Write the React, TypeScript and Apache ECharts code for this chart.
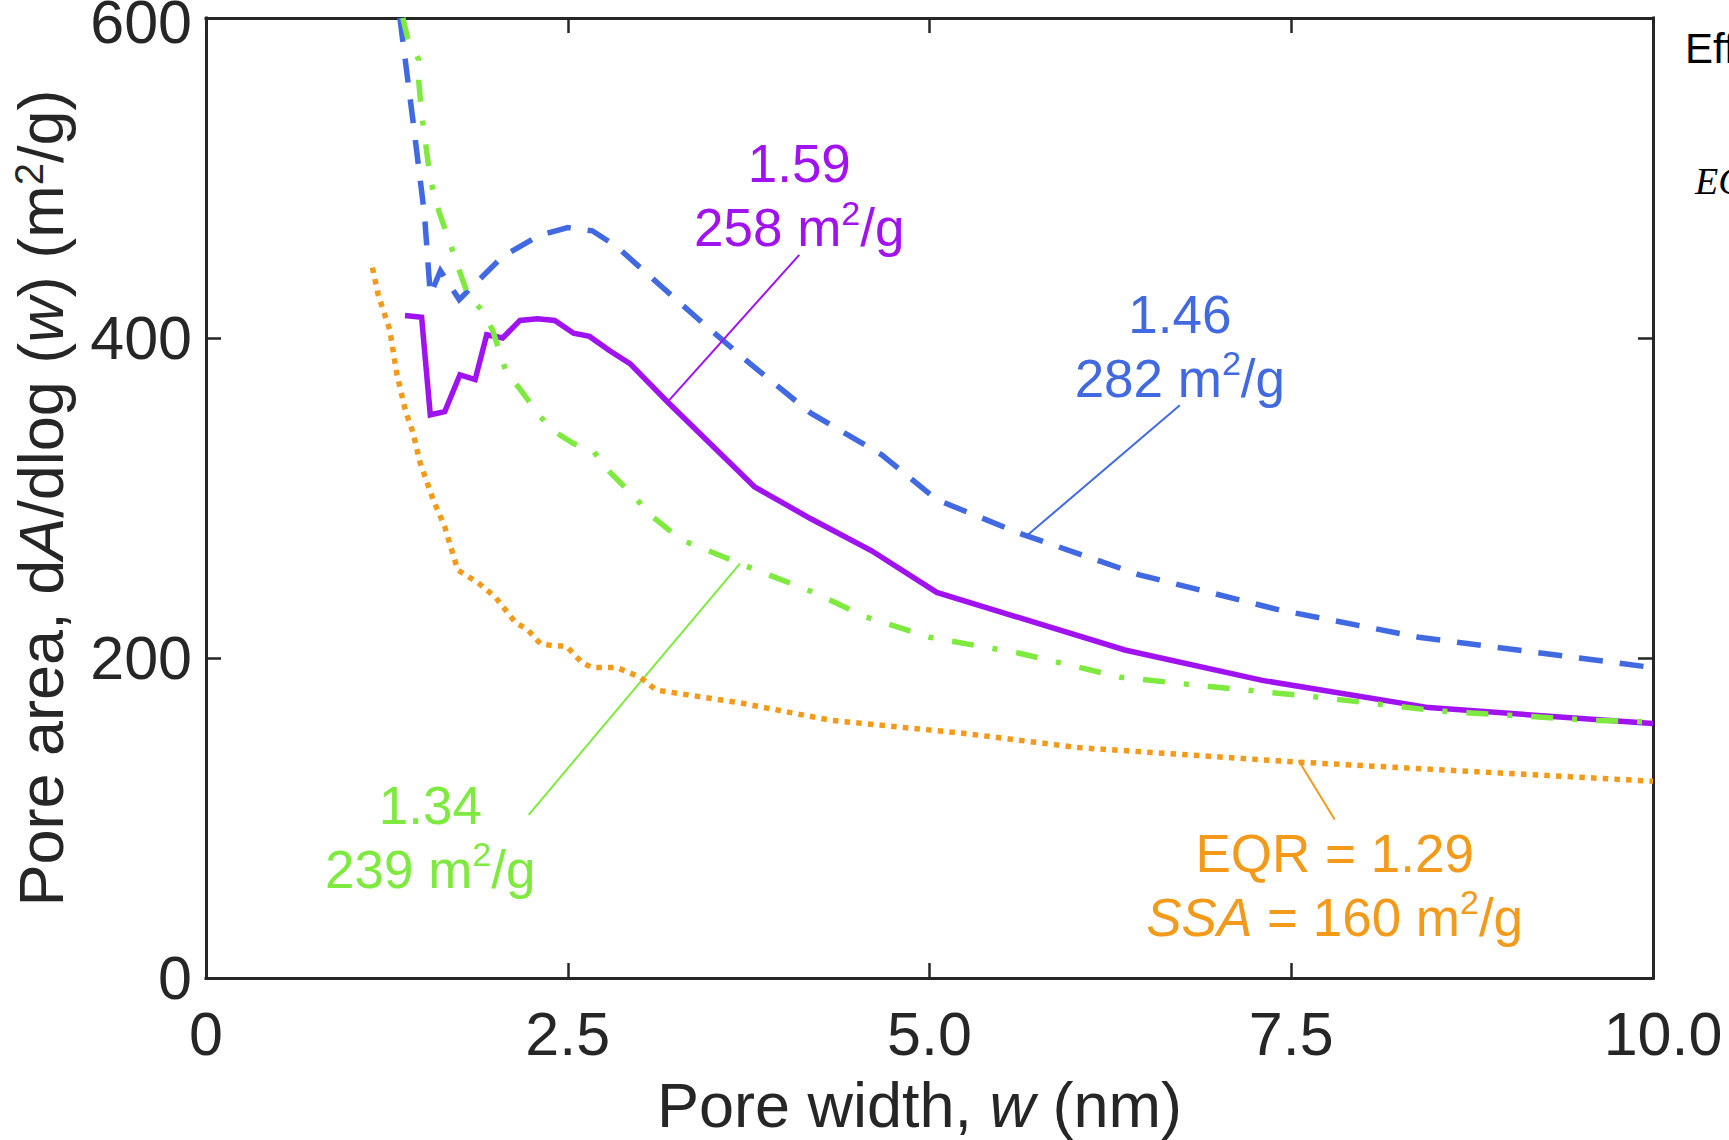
import React, { useEffect, useRef } from "react";
import * as echarts from "echarts";

// Pore width w (nm) and pore-area distribution dA/dlog(w) (m²/g), one pair per sample
const purpleW = [1.375, 1.49, 1.55, 1.65, 1.755, 1.86, 1.94, 2.05, 2.17, 2.29, 2.41, 2.54, 2.65, 2.79, 2.93, 3.19, 3.45, 3.79, 4.18, 4.6, 5.05, 6.35, 7.3, 8.45, 10.0];
const purpleA = [414, 413, 352, 354, 377, 374, 402, 400, 411, 412, 411, 403, 401, 392, 384, 360, 337, 307, 287, 267, 241, 205, 186, 169, 159];

const blueW = [1.34, 1.43, 1.51, 1.55, 1.62, 1.75, 2.05, 2.3, 2.5, 2.67, 2.84, 3.15, 3.45, 3.76, 4.18, 4.67, 5.05, 5.62, 6.45, 7.42, 8.38, 10.0];
const blueA = [600, 536, 477, 427, 442, 424, 451, 464, 469, 467, 457, 432, 408, 384, 353, 327, 299, 278, 252, 230, 213, 194];

const greenW = [1.36, 1.395, 1.47, 1.47, 1.49, 1.52, 1.55, 1.61, 1.68, 1.755, 1.81, 1.91, 1.98, 2.07, 2.17, 2.31, 2.4, 2.54, 2.68, 2.76, 2.98, 3.05, 3.28, 3.69, 4.2, 4.55, 5.0, 5.62, 6.32, 6.95, 7.64, 8.5, 9.59, 10.0];
const greenA = [600, 587, 574, 561, 540, 520, 499, 479, 461, 441, 427, 417, 405, 380, 368, 351, 342, 334, 329, 319, 299, 291, 274, 259, 241, 226, 213, 203, 188, 182, 176, 167, 161, 160];

const orangeW = [1.15, 1.19, 1.27, 1.32, 1.38, 1.43, 1.48, 1.57, 1.65, 1.74, 1.88, 2.0, 2.14, 2.22, 2.31, 2.41, 2.49, 2.6, 2.67, 2.84, 3.0, 3.11, 3.69, 4.32, 5.23, 6.03, 7.53, 10.0];
const orangeA = [444, 427, 405, 377, 354, 341, 322, 299, 282, 255, 247, 238, 222, 218, 209, 207.5, 207.5, 197, 194, 194, 188, 180, 172, 161, 153, 144, 135, 123];

// Effective quality ratio and specific surface area printed beside each curve
const eqrLabels = ["1.59", "1.46", "1.34", "1.29"];
const ssaLabels = [258, 282, 239, 160];

// Axis ranges and ticks
const xTicks = [0, 2.5, 5, 7.5, 10];
const yTicks = [0, 200, 400, 600];

const FONT = "'Liberation Sans', Arial, Helvetica, sans-serif";
const AXIS_COLOR = "#262626";

const COLORS = {
  purple: "#A012F0",
  blue: "#4169E1",
  green: "#7EEA40",
  orange: "#F39A1A",
};

// Leader lines (from curve to caption) and caption anchors, in data units
const callouts = [
  { from: [3.2, 361], to: [4.1, 452], text: [4.1, 489] },
  { from: [5.68, 277], to: [6.73, 358], text: [6.73, 395] },
  { from: [3.69, 259], to: [2.23, 102], text: [1.55, 88] },
  { from: [7.55, 136], to: [7.8, 99], text: [7.8, 58] },
];

const pairs = (w: number[], a: number[]) => w.map((x, i) => [x, a[i]]);

function captionRich(color: string) {
  return {
    n: { fontSize: 53, fontFamily: FONT, color, lineHeight: 64, align: "center" },
    i: { fontSize: 53, fontFamily: FONT, color, lineHeight: 64, fontStyle: "italic", align: "center" },
    s: { fontSize: 34, fontFamily: FONT, color, lineHeight: 44, verticalAlign: "top", align: "center" },
  };
}

function makeSeries(
  idx: number,
  data: number[][],
  color: string,
  dash: any,
  captionText: string
) {
  const c = callouts[idx];
  return {
    type: "line",
    data,
    xAxisIndex: 0,
    yAxisIndex: 0,
    symbol: "none",
    showSymbol: false,
    silent: true,
    z: 2 + idx,
    lineStyle: { color, width: 5.5, type: dash, cap: "butt", join: "miter" },
    markLine: {
      silent: true,
      symbol: ["none", "none"],
      lineStyle: { color, width: 2, type: "solid" },
      label: { show: false },
      emphasis: { disabled: true },
      data: [[{ coord: c.from }, { coord: c.to }]],
    },
    markPoint: {
      silent: true,
      symbol: "circle",
      symbolSize: 1,
      itemStyle: { color: "rgba(0,0,0,0)" },
      label: {
        show: true,
        position: "inside",
        formatter: captionText,
        rich: captionRich(color),
      },
      data: [{ coord: c.text }],
    },
  };
}

export default function App() {
  const ref = useRef<HTMLDivElement>(null);

  useEffect(() => {
    if (!ref.current) return;
    const chart = echarts.init(ref.current, undefined, { renderer: "svg" });

    const sup = (n: string, ssa: number) => `{n|${n}}\n{n|${ssa} m}{s|2}{n|/g}`;

    const baseAxis = {
      axisLine: { show: true, onZero: false, lineStyle: { color: AXIS_COLOR, width: 3, cap: "square" } },
      axisTick: { show: true, inside: true, length: 15, lineStyle: { color: AXIS_COLOR, width: 2.5 } },
      splitLine: { show: false },
    };

    chart.setOption({
      animation: false,
      backgroundColor: "#ffffff",
      grid: { left: 206, right: 76, top: 18, bottom: 162, containLabel: false, outerBoundsMode: "none" },
      xAxis: [
        {
          ...baseAxis,
          type: "value",
          position: "bottom",
          min: xTicks[0],
          max: xTicks[xTicks.length - 1],
          interval: 2.5,
          axisLabel: {
            margin: 25,
            color: AXIS_COLOR,
            fontFamily: FONT,
            fontSize: 61,
            showMinLabel: true,
            showMaxLabel: true,
            formatter: (v: number) =>
              v === 0 ? "{n|0}" : v === 10 ? "{r|10.0}" : `{n|${v.toFixed(1)}}`,
            rich: {
              n: { fontSize: 61, fontFamily: FONT, color: AXIS_COLOR },
              r: { fontSize: 61, fontFamily: FONT, color: AXIS_COLOR, padding: [0, 0, 0, 20] },
            },
          },
          name: "{a|Pore width, }{i|w}{a| (nm)}",
          nameLocation: "middle",
          nameGap: 95,
          nameTextStyle: {
            padding: [0, 20, 0, 0],
            rich: {
              a: { fontSize: 63, fontFamily: FONT, color: AXIS_COLOR, lineHeight: 63 },
              i: { fontSize: 63, fontFamily: FONT, color: AXIS_COLOR, lineHeight: 63, fontStyle: "italic" },
            },
          },
        },
        {
          ...baseAxis,
          type: "value",
          position: "top",
          min: xTicks[0],
          max: xTicks[xTicks.length - 1],
          interval: 2.5,
          axisLabel: { show: false },
        },
      ],
      yAxis: [
        {
          ...baseAxis,
          type: "value",
          position: "left",
          min: yTicks[0],
          max: yTicks[yTicks.length - 1],
          interval: 200,
          axisLabel: {
            margin: 14,
            color: AXIS_COLOR,
            fontFamily: FONT,
            fontSize: 61,
            showMinLabel: true,
            showMaxLabel: true,
            formatter: (v: number) => (v === 600 ? `{t|${v}}` : `{n|${v}}`),
            rich: {
              n: { fontSize: 61, fontFamily: FONT, color: AXIS_COLOR },
              // the top label sits a little lower so it stays inside the page
              t: { fontSize: 61, fontFamily: FONT, color: AXIS_COLOR, padding: [8, 0, 0, 0] },
            },
          },
          name: "{a|Pore area, d}{i|A}{a|/dlog (}{i|w}{a|) (m}{s|2}{a|/g)}",
          nameLocation: "middle",
          nameGap: 134,
          nameTextStyle: {
            rich: {
              a: { fontSize: 63, fontFamily: FONT, color: AXIS_COLOR, lineHeight: 63 },
              i: { fontSize: 63, fontFamily: FONT, color: AXIS_COLOR, lineHeight: 63, fontStyle: "italic" },
              s: { fontSize: 40, fontFamily: FONT, color: AXIS_COLOR, lineHeight: 44, verticalAlign: "top" },
            },
          },
        },
        {
          ...baseAxis,
          type: "value",
          position: "right",
          min: yTicks[0],
          max: yTicks[yTicks.length - 1],
          interval: 200,
          axisLabel: { show: false },
        },
      ],
      series: [
        makeSeries(3, pairs(orangeW, orangeA), COLORS.orange, [5.5, 6.2],
          `{n|EQR = ${eqrLabels[3]}}\n{i|SSA}{n| = ${ssaLabels[3]} m}{s|2}{n|/g}`),
        makeSeries(1, pairs(blueW, blueA), COLORS.blue, [24, 17], sup(eqrLabels[1], ssaLabels[1])),
        makeSeries(2, pairs(greenW, greenA), COLORS.green, [22, 19, 5, 19], sup(eqrLabels[2], ssaLabels[2])),
        makeSeries(0, pairs(purpleW, purpleA), COLORS.purple, "solid", sup(eqrLabels[0], ssaLabels[0])),
      ],
      graphic: [
        {
          type: "text",
          x: 1685,
          y: 48,
          style: {
            text: "Eff",
            font: `42px ${FONT}`,
            fill: "#000000",
            textAlign: "left",
            textVerticalAlign: "middle",
          },
        },
        {
          type: "text",
          x: 1695,
          y: 181,
          style: {
            text: "EQ",
            font: "italic 38px 'Liberation Serif', 'DejaVu Serif', serif",
            fill: "#000000",
            textAlign: "left",
            textVerticalAlign: "middle",
          },
        },
      ],
    });

    return () => chart.dispose();
  }, []);

  return (
    <div
      ref={ref}
      style={{ position: "absolute", left: 0, top: 0, width: 1729, height: 1140, background: "#ffffff" }}
    />
  );
}
